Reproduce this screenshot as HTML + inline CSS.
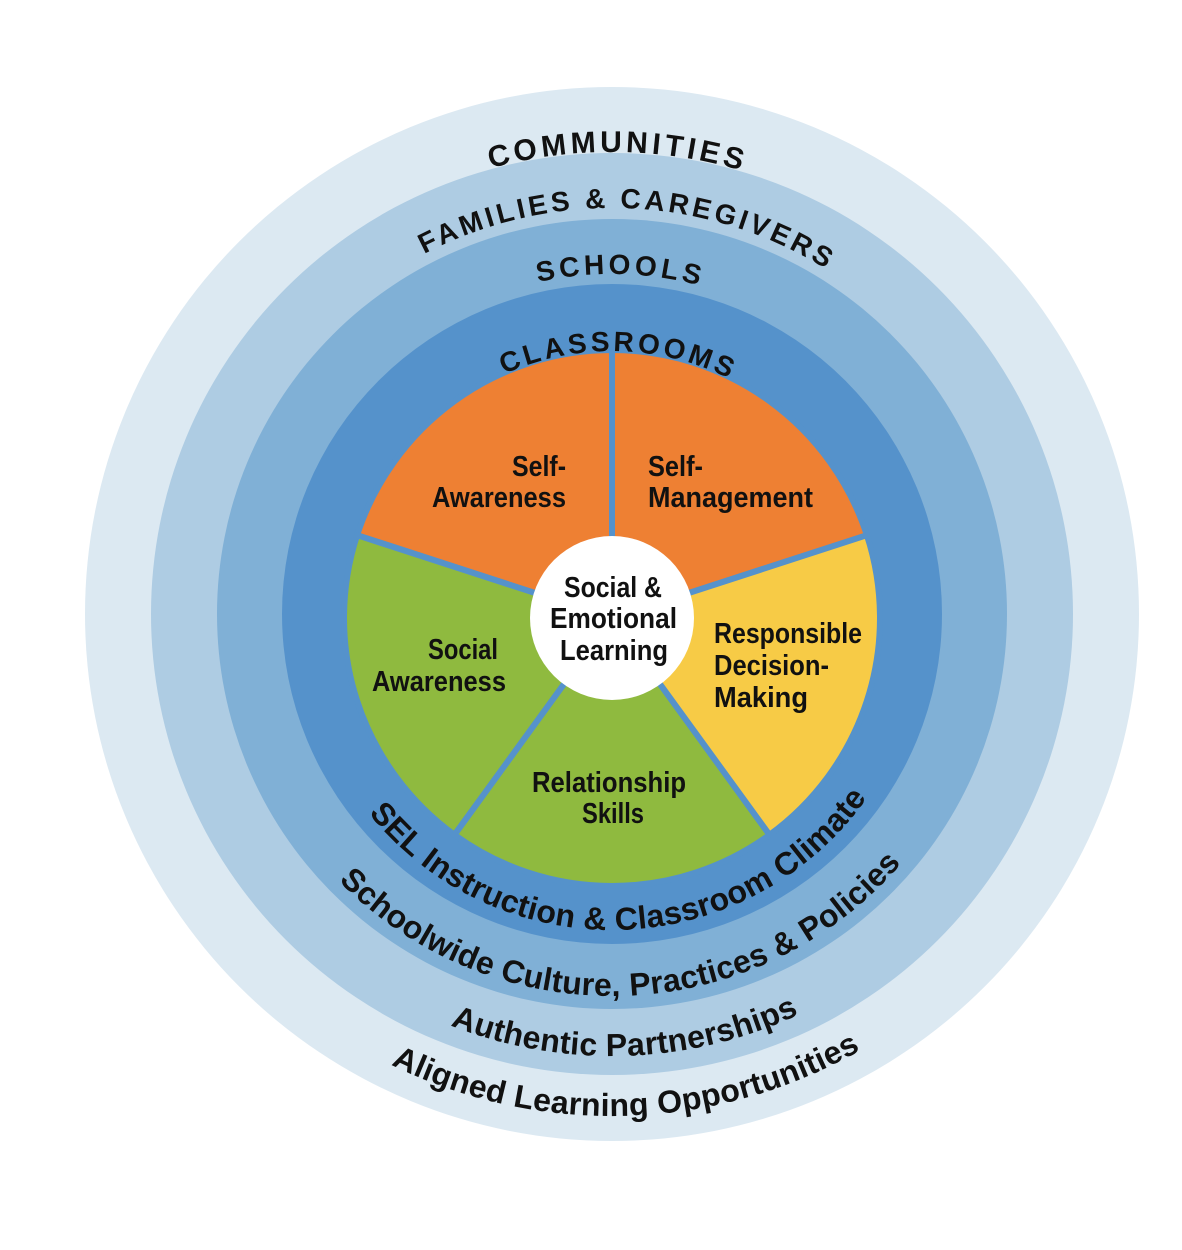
<!DOCTYPE html>
<html><head><meta charset="utf-8"><style>
html,body{margin:0;padding:0;background:#fff}
svg{display:block}
.cap{font-family:"Liberation Sans",sans-serif;font-weight:bold;fill:#111}
.bot{font-family:"Liberation Sans",sans-serif;font-weight:bold;fill:#111;font-size:32px;letter-spacing:0.3px}
.in{font-family:"Liberation Sans",sans-serif;font-weight:bold;fill:#111;font-size:29px}
</style></head><body>
<svg width="1182" height="1250" viewBox="0 0 1182 1250" xmlns="http://www.w3.org/2000/svg">
<defs>
<path id="t1" d="M150,614 A462,462 0 0 1 1074,614"/>
<path id="t2" d="M206,614 A406,406 0 0 1 1018,614"/>
<path id="t3" d="M272,614 A340,340 0 0 1 952,614"/>
<path id="t4" d="M349,614 A263,263 0 0 1 875,614"/>
<path id="b1" d="M300,618 A312,312 0 0 0 924,618"/>
<path id="b2" d="M230,614 A382,382 0 0 0 994,614"/>
<path id="b3" d="M170,614 A442,442 0 0 0 1054,614"/>
<path id="b4" d="M110,614 A502,502 0 0 0 1114,614"/>
</defs>
<circle cx="612" cy="614" r="527" fill="#dce9f2"/>
<circle cx="612" cy="614" r="461" fill="#aecce3"/>
<circle cx="612" cy="614" r="395" fill="#80b0d6"/>
<circle cx="612" cy="614" r="330" fill="#5592cb"/>
<g stroke="#5592cb" stroke-width="6" stroke-linejoin="round">
<path d="M612,618 L866.9,535.2 A268,268 0 0 0 612,350 Z" fill="#ee8033"/>
<path d="M612,618 L612,350 A268,268 0 0 0 357.1,535.2 Z" fill="#ee8033"/>
<path d="M612,618 L357.1,535.2 A268,268 0 0 0 454.5,834.8 Z" fill="#8fba3f"/>
<path d="M612,618 L454.5,834.8 A268,268 0 0 0 769.5,834.8 Z" fill="#8fba3f"/>
<path d="M612,618 L769.5,834.8 A268,268 0 0 0 866.9,535.2 Z" fill="#f7cb46"/>
</g>
<circle cx="612" cy="618" r="82" fill="#fff"/>
<text class="cap" font-size="30" letter-spacing="4"><textPath href="#t1" startOffset="50.4%" text-anchor="middle">COMMUNITIES</textPath></text>
<text class="cap" font-size="28" letter-spacing="3.5"><textPath href="#t2" startOffset="51.3%" text-anchor="middle">FAMILIES &amp; CAREGIVERS</textPath></text>
<text class="cap" font-size="28" letter-spacing="4"><textPath href="#t3" startOffset="50.8%" text-anchor="middle">SCHOOLS</textPath></text>
<text class="cap" font-size="28" letter-spacing="3.5"><textPath href="#t4" startOffset="50.8%" text-anchor="middle">CLASSROOMS</textPath></text>
<text class="bot"><textPath href="#b1" startOffset="51%" text-anchor="middle">SEL Instruction &amp; Classroom Climate</textPath></text>
<text class="bot"><textPath href="#b2" startOffset="51%" text-anchor="middle">Schoolwide Culture, Practices &amp; Policies</textPath></text>
<text class="bot"><textPath href="#b3" startOffset="51%" text-anchor="middle">Authentic Partnerships</textPath></text>
<text class="bot"><textPath href="#b4" startOffset="51%" text-anchor="middle">Aligned Learning Opportunities</textPath></text>
<g class="in">
<text x="512" y="476" textLength="54" lengthAdjust="spacingAndGlyphs">Self-</text>
<text x="432" y="507" textLength="134" lengthAdjust="spacingAndGlyphs">Awareness</text>
<text x="648" y="476" textLength="55" lengthAdjust="spacingAndGlyphs">Self-</text>
<text x="648" y="507" textLength="165" lengthAdjust="spacingAndGlyphs">Management</text>
<text x="714" y="643" textLength="148" lengthAdjust="spacingAndGlyphs">Responsible</text>
<text x="714" y="675" textLength="115" lengthAdjust="spacingAndGlyphs">Decision-</text>
<text x="714" y="707" textLength="94" lengthAdjust="spacingAndGlyphs">Making</text>
<text x="428" y="659" textLength="70" lengthAdjust="spacingAndGlyphs">Social</text>
<text x="372" y="691" textLength="134" lengthAdjust="spacingAndGlyphs">Awareness</text>
<text x="532" y="792" textLength="154" lengthAdjust="spacingAndGlyphs">Relationship</text>
<text x="582" y="823" textLength="62" lengthAdjust="spacingAndGlyphs">Skills</text>
<text x="564" y="597" textLength="98" lengthAdjust="spacingAndGlyphs">Social &amp;</text>
<text x="550" y="628" textLength="127" lengthAdjust="spacingAndGlyphs">Emotional</text>
<text x="560" y="660" textLength="108" lengthAdjust="spacingAndGlyphs">Learning</text>
</g>
</svg>
</body></html>
